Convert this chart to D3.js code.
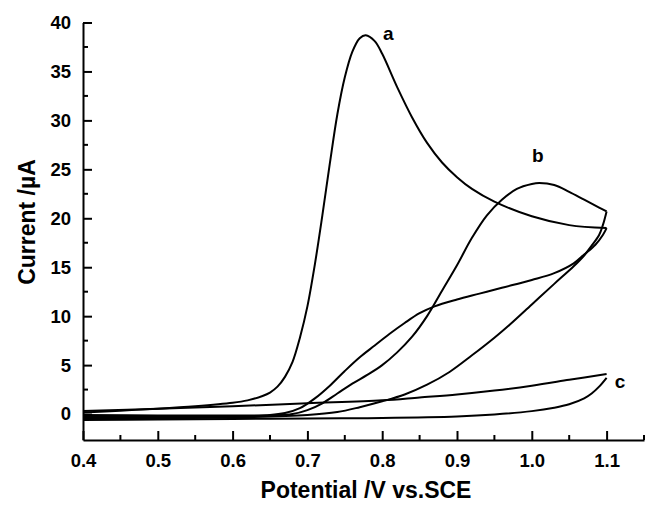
<!DOCTYPE html>
<html>
<head>
<meta charset="utf-8">
<script src="https://cdn.jsdelivr.net/npm/d3@7"></script>
<style>
  body { margin: 0; background: #fff; }
  text { font-family: "Liberation Sans", Arial, sans-serif; font-weight: bold; }
</style>
</head>
<body>
<script>
// tick values
let xTicks = [0.4, 0.5, 0.6, 0.7, 0.8, 0.9, 1.0, 1.1];
let xMinor = [0.45, 0.55, 0.65, 0.75, 0.85, 0.95, 1.05, 1.15];
let yTicks = [0, 5, 10, 15, 20, 25, 30, 35, 40];
let yMinor = [2.5, 7.5, 12.5, 17.5, 22.5, 27.5, 32.5, 37.5];

// [potential V, current uA]
let aForward = [[0.40, 0.15], [0.45, 0.35], [0.50, 0.55], [0.55, 0.8], [0.60, 1.15], [0.62, 1.4],
    [0.64, 1.85], [0.65, 2.2], [0.66, 2.8], [0.67, 3.8], [0.68, 5.3], [0.69, 7.8], [0.70, 11.0],
    [0.71, 15.3], [0.72, 20.3], [0.73, 25.6], [0.74, 30.6], [0.75, 34.4], [0.76, 37.0],
    [0.77, 38.4], [0.778, 38.7], [0.79, 38.1], [0.80, 36.8], [0.82, 33.4], [0.84, 30.3],
    [0.86, 27.7], [0.88, 25.7], [0.90, 24.2], [0.92, 23.0], [0.95, 21.7], [1.00, 20.2],
    [1.05, 19.3], [1.10, 19.0]];
let aReverse = [[1.10, 19.0], [1.095, 18.3], [1.085, 17.3], [1.07, 16.3], [1.056, 15.4], [1.03, 14.4],
    [1.00, 13.7], [0.96, 12.9], [0.93, 12.3], [0.90, 11.7], [0.87, 11.0], [0.85, 10.3],
    [0.83, 9.3], [0.81, 8.2], [0.79, 7.0], [0.77, 5.8], [0.75, 4.4], [0.73, 2.9], [0.71, 1.6],
    [0.69, 0.6], [0.67, 0.1], [0.65, -0.1], [0.60, -0.15], [0.50, -0.15], [0.40, -0.1]];
let bForward = [[0.40, -0.3], [0.50, -0.3], [0.60, -0.25], [0.65, -0.15], [0.68, 0.0], [0.70, 0.4],
    [0.72, 1.1], [0.74, 2.1], [0.76, 3.1], [0.78, 4.0], [0.80, 5.0], [0.82, 6.3], [0.84, 7.9],
    [0.86, 10.0], [0.88, 12.6], [0.90, 15.2], [0.92, 18.0], [0.94, 20.3], [0.96, 21.9],
    [0.98, 23.0], [1.00, 23.5], [1.01, 23.6], [1.03, 23.4], [1.05, 22.7], [1.07, 21.9],
    [1.09, 21.1], [1.10, 20.7]];
let bReverse = [[1.10, 20.7], [1.095, 19.3], [1.09, 18.3], [1.08, 17.2], [1.07, 16.2], [1.056, 15.1],
    [1.03, 13.3], [1.00, 11.2], [0.97, 9.1], [0.95, 7.8], [0.92, 6.0], [0.89, 4.3], [0.86, 3.0],
    [0.83, 2.0], [0.80, 1.3], [0.77, 0.7], [0.74, 0.2], [0.70, -0.1], [0.60, -0.35],
    [0.50, -0.4], [0.40, -0.45]];
let cForward = [[0.40, -0.6], [0.50, -0.55], [0.60, -0.5], [0.70, -0.45], [0.80, -0.4], [0.90, -0.25],
    [0.95, -0.05], [1.00, 0.3], [1.03, 0.65], [1.05, 1.0], [1.07, 1.6], [1.08, 2.1],
    [1.09, 2.8], [1.10, 3.7]];
let cReverse = [[1.10, 4.1], [1.05, 3.5], [1.00, 2.9], [0.95, 2.4], [0.90, 2.0], [0.85, 1.7],
    [0.80, 1.4], [0.70, 1.1], [0.60, 0.8], [0.50, 0.55], [0.40, 0.3]];
let curveLabels = [["a", 0.808, 38.9], ["b", 1.008, 26.4], ["c", 1.118, 3.3]];

var svg = d3.select('body').append('svg')
    .attr('width', 646)
    .attr('height', 505);

var xScale = d3.scaleLinear()
    .domain([0.4, 1.15])
    .range([83, 644]);
var yScale = d3.scaleLinear()
    .domain([-2.65, 40])
    .range([440, 22.5]);

// x axis, ticks pointing inward
var xAxis = d3.axisBottom(xScale)
    .tickValues(xTicks)
    .tickFormat(d3.format('.1f'))
    .tickSizeInner(-9)
    .tickSizeOuter(0)
    .tickPadding(14);
var gx = svg.append('g')
    .attr('class', 'x axis')
    .attr('transform', 'translate(0, 440)')
    .call(xAxis);
gx.selectAll('text').attr('font-size', 18.5).attr('fill', '#000');
gx.append('g').selectAll('line')
    .data(xMinor)
    .enter().append('line')
    .attr('x1', d => xScale(d)).attr('x2', d => xScale(d))
    .attr('y1', 0).attr('y2', -5);

var yAxis = d3.axisLeft(yScale)
    .tickValues(yTicks)
    .tickSizeInner(-9)
    .tickSizeOuter(0)
    .tickPadding(12);
var gy = svg.append('g')
    .attr('class', 'y axis')
    .attr('transform', 'translate(83, 0)')
    .call(yAxis);
gy.selectAll('text').attr('font-size', 18.5).attr('fill', '#000');
gy.append('g').selectAll('line')
    .data(yMinor)
    .enter().append('line')
    .attr('y1', d => yScale(d)).attr('y2', d => yScale(d))
    .attr('x1', 0).attr('x2', 5);

svg.selectAll('.axis path, .axis line')
    .attr('stroke', '#000')
    .attr('stroke-width', 2);

// curves
var line = d3.line()
    .x(d => xScale(d[0]))
    .y(d => yScale(d[1]))
    .curve(d3.curveCatmullRom);
let branches = [aForward, aReverse, bForward, bReverse, cForward, cReverse];
svg.append('g')
    .attr('class', 'curves')
    .selectAll('path')
    .data(branches)
    .enter().append('path')
    .attr('d', line)
    .attr('fill', 'none')
    .attr('stroke', '#000')
    .attr('stroke-width', 2);

svg.append('g').selectAll('text')
    .data(curveLabels)
    .enter().append('text')
    .attr('x', d => xScale(d[1]))
    .attr('y', d => yScale(d[2]))
    .attr('text-anchor', 'middle')
    .attr('dy', '0.35em')
    .attr('font-size', 19)
    .text(d => d[0]);

// axis titles
svg.append('text')
    .attr('x', 366)
    .attr('y', 498)
    .attr('text-anchor', 'middle')
    .attr('font-size', 23)
    .text('Potential /V vs.SCE');
svg.append('text')
    .attr('transform', 'translate(35, 222) rotate(-90)')
    .attr('text-anchor', 'middle')
    .attr('font-size', 23)
    .text('Current /µA');
</script>
</body>
</html>
